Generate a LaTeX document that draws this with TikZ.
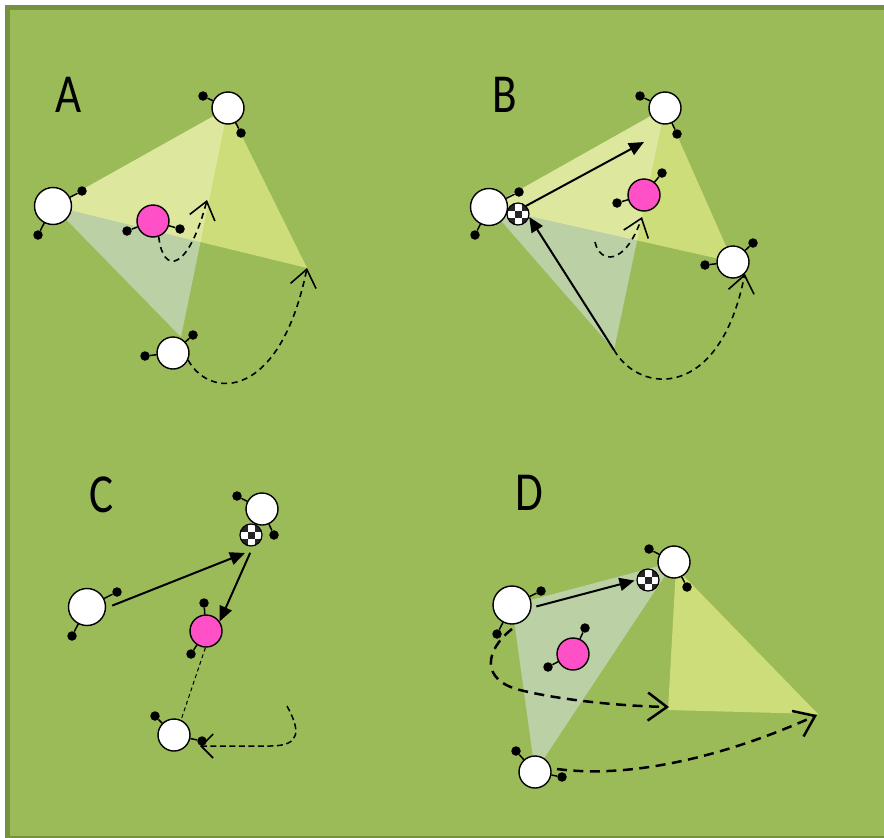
\documentclass[tikz,border=0pt]{standalone}
\usepackage{fontspec}
\newfontfamily\lblfont{Carlito}
\usetikzlibrary{arrows.meta}
\definecolor{bgc}{HTML}{9BBB59}
\definecolor{frc}{HTML}{76923C}
\definecolor{pinkc}{HTML}{FF50C8}
\definecolor{bluec}{HTML}{DBE5F1}
\definecolor{yelc}{HTML}{FFFF99}
\pgfdeclarelayer{back}
\pgfdeclarelayer{tri}
\pgfsetlayers{back,tri,main}
\tikzset{
  pl/.style={circle, draw=black, line width=1.4pt, fill=white, inner sep=0pt, minimum size=#1},
  pk/.style={pl=#1, fill=pinkc},
  dt/.style={circle, fill=black, inner sep=0pt, minimum size=9.5pt},
  stk/.style={line width=1.5pt},
  ballst/.style={circle, draw=black, line width=1.2pt, fill=white, inner sep=0pt, minimum size=22pt,
    path picture={
      \foreach \i/\j in {-1/-1,1/-1,-1/1,1/1,0/0}
        \fill[black!85] ([shift={(\i*7-3.5,\j*7-3.5)}]path picture bounding box.center) rectangle ++(7,7);
    }},
  yeltri/.style={fill=yelc, fill opacity=0.5},
  bluetri/.style={fill=bluec, fill opacity=0.5},
  solidarr/.style={line width=2pt, -{Triangle[length=15pt,width=13pt]}},
  dashA/.style={line width=1.6pt, dash pattern=on 6pt off 4.5pt, -{Straight Barb[length=17pt,width=26pt,line width=1.6pt]}},
  dashD/.style={line width=2.5pt, dash pattern=on 10pt off 6.5pt, -{Straight Barb[length=19pt,width=28pt,line width=2.5pt]}},
  lbl/.style={inner sep=0pt, font=\lblfont\fontsize{55}{55}\selectfont}
}
\begin{document}
\begin{tikzpicture}[x=1pt, y=-1pt]
\useasboundingbox (0,0) rectangle (884,838);
\begin{pgfonlayer}{back}
  \fill[white] (0,0) rectangle (884,838);
  \fill[frc] (5,5) rectangle (890,844);
  \fill[bgc] (10,10) rectangle (890,836);
\end{pgfonlayer}

% ---------- labels
\node[lbl] (labA) at (68.5,94.5) {\scalebox{0.82}[1]{A}};
\node[lbl] (labB) at (505,94.5) {\scalebox{0.82}[1]{B}};
\node[lbl] (labC) at (101.5,495) {\scalebox{0.82}[1]{C}};
\node[lbl] (labD) at (529,493) {\scalebox{0.82}[1]{D}};

% ================= Panel A
\node[pl=37pt] (lA) at (53,206) {};
\node[dt] (lAa) at (82,191) {};
\node[dt] (lAb) at (38,235) {};
\node[pl=32pt] (tA) at (228,108) {};
\node[dt] (tAa) at (203,96) {};
\node[dt] (tAb) at (241,133) {};
\node[pk=32pt] (pA) at (153,221) {};
\node[dt] (pAa) at (127,231) {};
\node[dt] (pAb) at (180,229) {};
\node[pl=32pt] (bA) at (173,353) {};
\node[dt] (bAa) at (145,356) {};
\node[dt] (bAb) at (193,335) {};
\foreach \p/\d in {lA/lAa,lA/lAb,tA/tAa,tA/tAb,pA/pAa,pA/pAb,bA/bAa,bA/bAb}
  \draw[stk] (\p) -- (\d);
\coordinate (rA) at (307,268);
\coordinate (vA) at (181,337);
\coordinate (eA1) at (207,200);
\begin{pgfonlayer}{tri}
  \path[bluetri] (lA.center) -- (tA.center) -- (vA) -- cycle;
  \path[yeltri] (lA.center) -- (tA.center) -- (rA) -- cycle;
\end{pgfonlayer}
\draw[dashA] (pA.-70) .. controls (163,275) and (188,272) .. (eA1);
\draw[dashA] (bA.-25) .. controls (210,400) and (280,400) .. (rA);

% ================= Panel B
\node[pl=37pt] (lB) at (489,207) {};
\node[dt] (lBa) at (519,192) {};
\node[dt] (lBb) at (475,235) {};
\node[pl=32pt] (tB) at (665,108) {};
\node[dt] (tBa) at (640,96) {};
\node[dt] (tBb) at (677,134) {};
\node[pk=32pt] (pB) at (644,195) {};
\node[dt] (pBa) at (617,203) {};
\node[dt] (pBb) at (662,173) {};
\node[pl=32pt] (rB) at (733,262) {};
\node[dt] (rBa) at (705,265) {};
\node[dt] (rBb) at (753,243) {};
\foreach \p/\d in {lB/lBa,lB/lBb,tB/tBa,tB/tBb,pB/pBa,pB/pBb,rB/rBa,rB/rBb}
  \draw[stk] (\p) -- (\d);
\node[ballst] (ballB) at (518,214) {};
\coordinate (vB) at (614,350);
\coordinate (eB1) at (644,142);
\coordinate (sB2) at (595,242);
\coordinate (eB2) at (642,217);
\begin{pgfonlayer}{tri}
  \path[bluetri] (lB.center) -- (tB.center) -- (vB) -- cycle;
  \path[yeltri] (lB.center) -- (tB.center) -- (rB.center) -- cycle;
\end{pgfonlayer}
\draw[solidarr] (ballB.45) -- (eB1);
\draw[solidarr] (vB) -- (ballB.-15);
\draw[dashA] (sB2) .. controls (600,264) and (625,266) .. (eB2);
\draw[dashA] (vB) .. controls (640,395) and (720,400) .. (rB.-45);

% ================= Panel C
\node[pl=32pt] (tC) at (262,509) {};
\node[dt] (tCa) at (237,496) {};
\node[dt] (tCb) at (274,535) {};
\node[pl=37pt] (lC) at (87,607) {};
\node[dt] (lCa) at (117,592) {};
\node[dt] (lCb) at (72,636) {};
\node[pk=32pt] (pC) at (206,631) {};
\node[dt] (pCa) at (204,603) {};
\node[dt] (pCb) at (191,654) {};
\node[pl=32pt] (bC) at (174,735) {};
\node[dt] (bCa) at (155,716) {};
\node[dt] (bCb) at (202,741) {};
\foreach \p/\d in {tC/tCa,tC/tCb,lC/lCa,lC/lCb,pC/pCa,pC/pCb,bC/bCa,bC/bCb}
  \draw[stk] (\p) -- (\d);
\node[ballst] (ballC) at (251,535) {};
\coordinate (eC1) at (245,553);
\coordinate (sC3) at (287,706);
\coordinate (eC3) at (200,746);
\draw[solidarr, shorten <=6.5pt] (lC.-3) -- (eC1);
\draw[solidarr, shorten <=7pt] (ballC.-80) -- (pC.35);
\draw[line width=1pt, dash pattern=on 4pt off 3pt] (pC.-92) -- (bC.65);
\draw[line width=1.5pt, dash pattern=on 6pt off 3.5pt, -{Straight Barb[length=12pt,width=24pt,line width=1.6pt]}]
  (sC3) .. controls (300,730) and (302,746) .. (270,746) -- (eC3);

% ================= Panel D
\node[pl=38pt] (lD) at (512,605) {};
\node[dt] (lDa) at (541,591) {};
\node[dt] (lDb) at (497,634) {};
\node[pl=32pt] (tD) at (674,562) {};
\node[dt] (tDa) at (649,549) {};
\node[dt] (tDb) at (687,587) {};
\node[pk=32pt] (pD) at (573,654) {};
\node[dt] (pDa) at (585,628) {};
\node[dt] (pDb) at (548,667) {};
\node[pl=32pt] (bD) at (535,772) {};
\node[dt] (bDa) at (516,751) {};
\node[dt] (bDb) at (562,777) {};
\foreach \p/\d in {lD/lDa,lD/lDb,tD/tDa,tD/tDb,pD/pDa,pD/pDb,bD/bDa,bD/bDb}
  \draw[stk] (\p) -- (\d);
\node[ballst] (ballD) at (648,580) {};
\coordinate (yD1) at (676,568);
\coordinate (yD2) at (668,710);
\coordinate (yD3) at (818,714);
\coordinate (sD1) at (512,629);
\coordinate (eD1) at (669,707);
\coordinate (sD2) at (557,769);
\coordinate (eD2) at (817,715);
\begin{pgfonlayer}{tri}
  \path[bluetri] (lD.center) -- (tD.center) -- (bD.center) -- cycle;
  \path[yeltri] (yD1) -- (yD2) -- (yD3) -- cycle;
\end{pgfonlayer}
\draw[solidarr, shorten <=5pt, shorten >=2pt] (lD.-8) -- (ballD.west);
\draw[dashD] (sD1) .. controls (485,650) and (480,680) .. (520,690)
  .. controls (560,700) and (620,706) .. (eD1);
\draw[dashD] (sD2) .. controls (640,780) and (740,750) .. (eD2);
\end{tikzpicture}
\end{document}
